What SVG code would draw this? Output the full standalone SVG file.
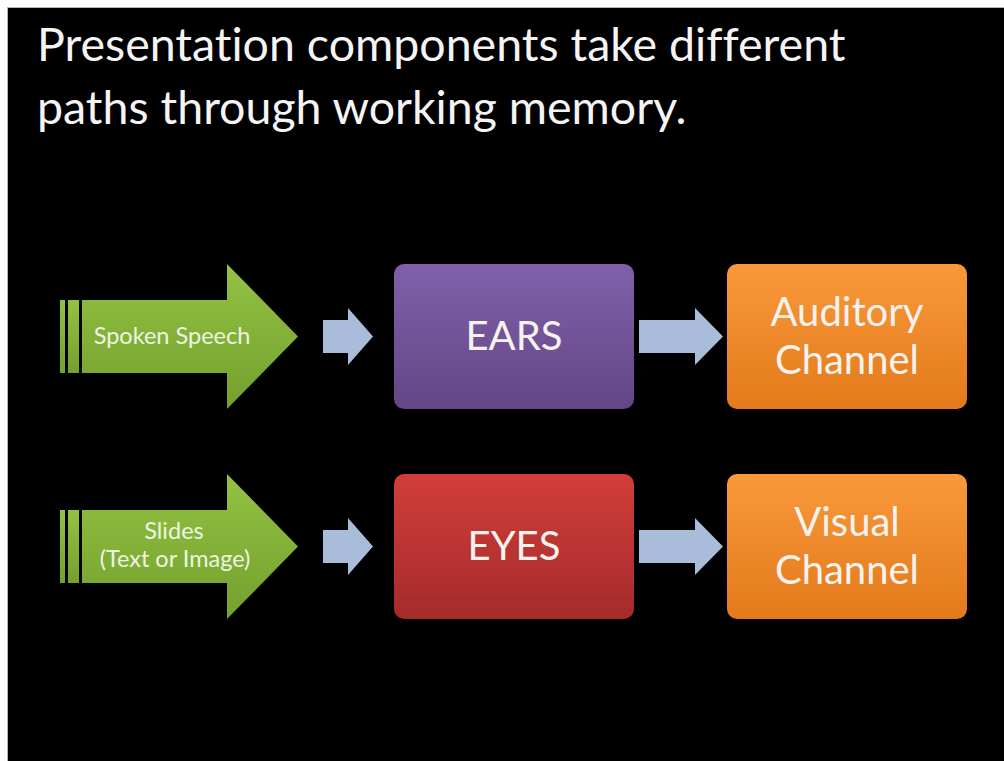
<svg xmlns="http://www.w3.org/2000/svg" width="1004" height="761" viewBox="0 0 1004 761">
  <defs>
    <linearGradient id="gGreen" x1="0" y1="0" x2="0" y2="1">
      <stop offset="0" stop-color="#93c243"/>
      <stop offset="1" stop-color="#74a02d"/>
    </linearGradient>
    <linearGradient id="gPurple" x1="0" y1="0" x2="0" y2="1">
      <stop offset="0" stop-color="#8060aa"/>
      <stop offset="1" stop-color="#644686"/>
    </linearGradient>
    <linearGradient id="gRed" x1="0" y1="0" x2="0" y2="1">
      <stop offset="0" stop-color="#d23e3a"/>
      <stop offset="1" stop-color="#a42b2b"/>
    </linearGradient>
    <linearGradient id="gOrange" x1="0" y1="0" x2="0" y2="1">
      <stop offset="0" stop-color="#f9993b"/>
      <stop offset="1" stop-color="#e27a1b"/>
    </linearGradient>
    <style>
      text { font-variant-ligatures: none; }
      .title { font-family: Lato, "Open Sans", sans-serif; font-size: 46.5px; fill: #f4f4f4; }
      .lbl { font-family: Lato, "Open Sans", sans-serif; fill: #f6f2ee; text-anchor: middle; }
      .big { font-size: 40px; }
      .small { font-size: 23.5px; fill: #eef4e2; }
      .flow { fill: #a9bcd9; }
    </style>
  </defs>

  <!-- page and slide background -->
  <rect x="0" y="0" width="1004" height="761" fill="#ffffff"/>
  <rect x="7.5" y="7.5" width="1000" height="760" fill="#000000" stroke="#b4b4b4" stroke-width="1"/>

  <!-- heading -->
  <text class="title" x="37" y="61">Presentation components take different</text>
  <text class="title" x="37" y="124">paths through working memory.</text>

  <!-- input arrows -->
  <g id="spoken-speech">
    <rect x="60" y="300" width="5" height="73" fill="url(#gGreen)"/>
    <rect x="68" y="300" width="11" height="73" fill="url(#gGreen)"/>
    <polygon points="82,300 227,300 227,264 298,336.5 227,409 227,373 82,373" fill="url(#gGreen)"/>
    <text class="lbl small" x="172" y="344">Spoken Speech</text>
  </g>
  <g id="slides">
    <rect x="60" y="510" width="5" height="73" fill="url(#gGreen)"/>
    <rect x="68" y="510" width="11" height="73" fill="url(#gGreen)"/>
    <polygon points="82,510 227,510 227,474 298,546.5 227,619 227,583 82,583" fill="url(#gGreen)"/>
    <text class="lbl small" x="174" y="539">Slides</text>
    <text class="lbl small" x="175" y="567">(Text or Image)</text>
  </g>

  <!-- senses -->
  <g id="ears">
    <rect x="394" y="264" width="240" height="145" rx="10" fill="url(#gPurple)"/>
    <text class="lbl big" x="514" y="350">EARS</text>
  </g>
  <g id="eyes">
    <rect x="394" y="474" width="240" height="145" rx="10" fill="url(#gRed)"/>
    <text class="lbl big" x="514" y="560">EYES</text>
  </g>

  <!-- channels -->
  <g id="auditory-channel">
    <rect x="727" y="264" width="240" height="145" rx="10" fill="url(#gOrange)"/>
    <text class="lbl big" x="847" y="326">Auditory</text>
    <text class="lbl big" x="847" y="374">Channel</text>
  </g>
  <g id="visual-channel">
    <rect x="727" y="474" width="240" height="145" rx="10" fill="url(#gOrange)"/>
    <text class="lbl big" x="847" y="536">Visual</text>
    <text class="lbl big" x="847" y="584">Channel</text>
  </g>

  <!-- flow arrows -->
  <g id="connectors">
    <polygon class="flow" points="323,320 348,320 348,308 373,336.5 348,365 348,353 323,353"/>
    <polygon class="flow" points="639,320 695,320 695,308 723,336.5 695,365 695,353 639,353"/>
    <polygon class="flow" points="323,530 348,530 348,518 373,546.5 348,575 348,563 323,563"/>
    <polygon class="flow" points="639,530 695,530 695,518 723,546.5 695,575 695,563 639,563"/>
  </g>
</svg>
